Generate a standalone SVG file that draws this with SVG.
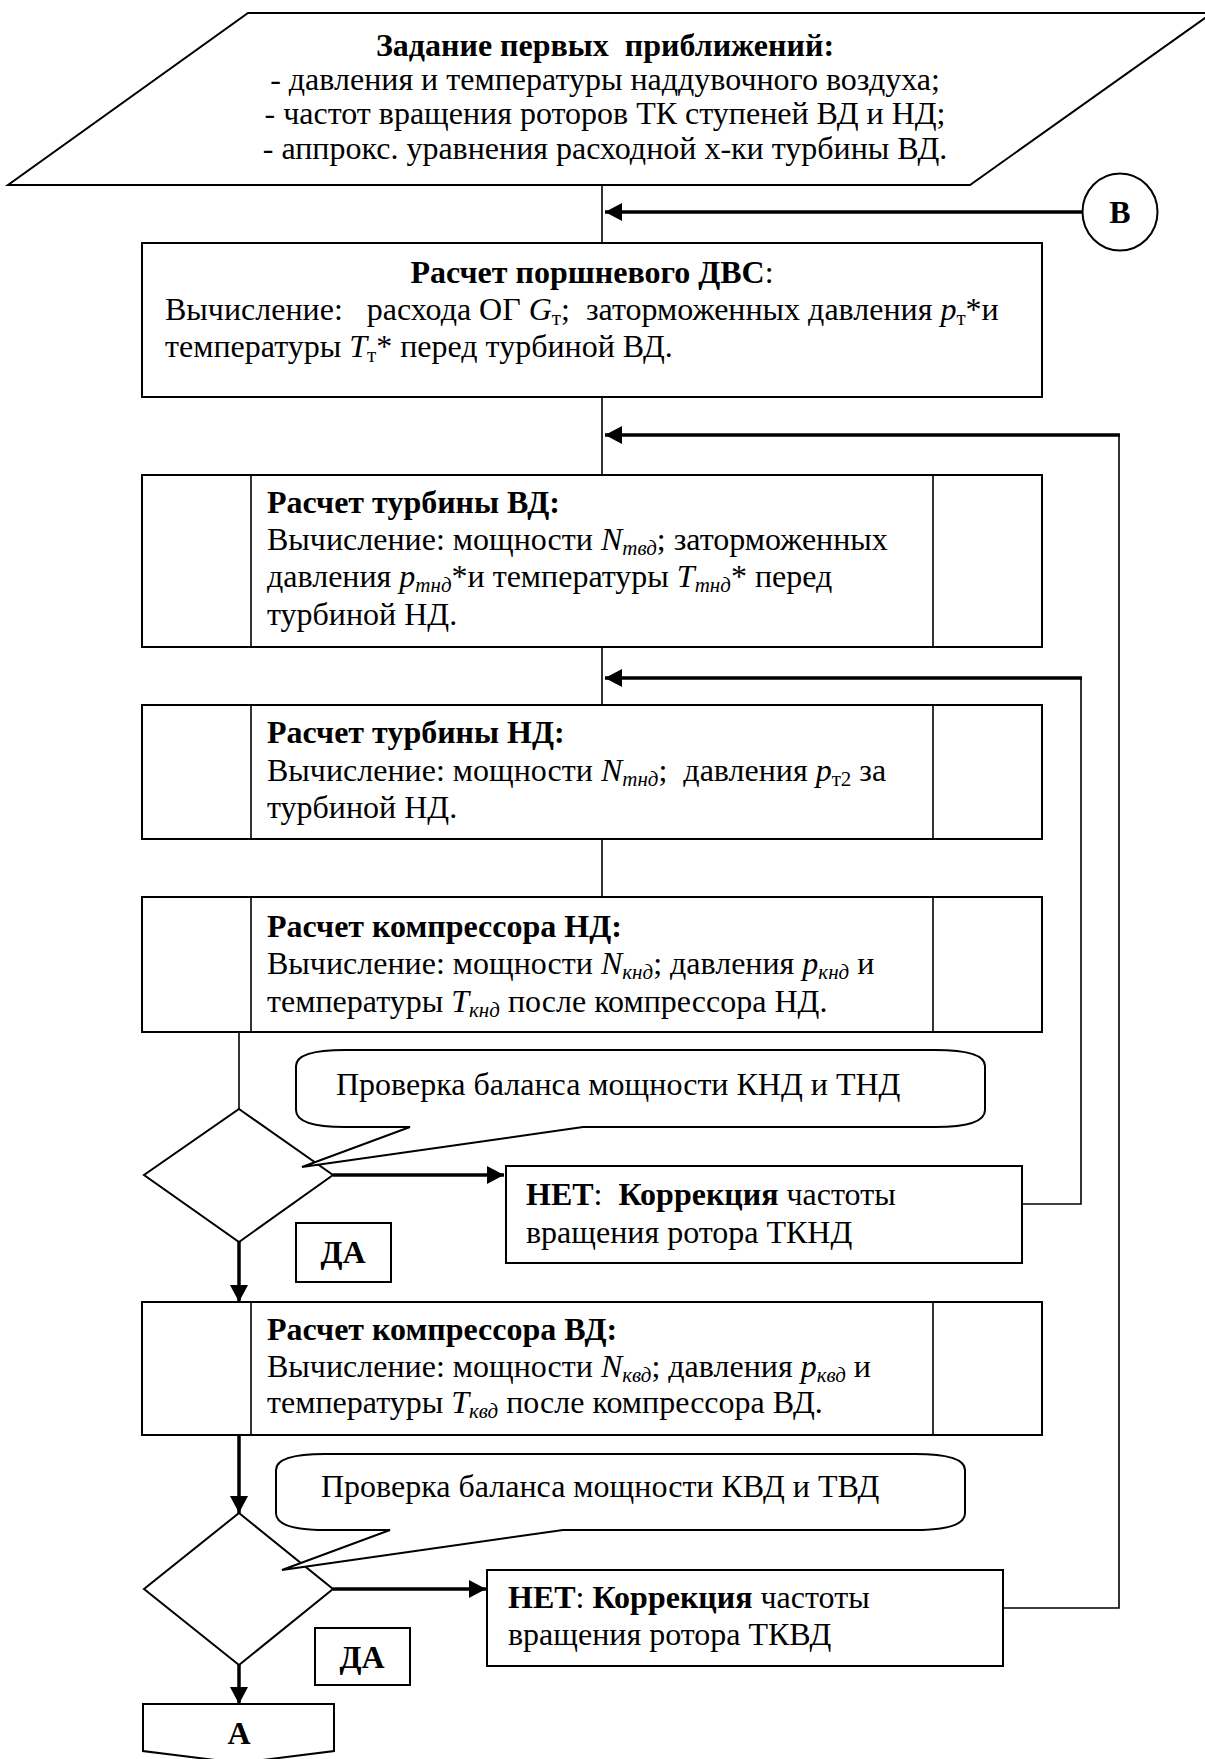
<svg xmlns="http://www.w3.org/2000/svg" width="1205" height="1759" viewBox="0 0 1205 1759">
<style>
text{font-family:"Liberation Serif","Times New Roman",serif;font-size:32px;fill:#000;white-space:pre}
.b{font-weight:bold}
.i{font-style:italic}
.s{font-size:21px}
.shape{fill:#fff;stroke:#000;stroke-width:2}
.thin{fill:none;stroke:#000;stroke-width:1.6}
.thick{fill:none;stroke:#000;stroke-width:3.5}
</style>
<defs>
<marker id="ah" markerUnits="userSpaceOnUse" markerWidth="20" markerHeight="20" refX="17" refY="9" orient="auto">
<path d="M0,0 L17,9 L0,18 Z" fill="#000"/>
</marker>
</defs>

<g id="connectors">
<line class="thin" x1="602" y1="185" x2="602" y2="243"/>
<line class="thin" x1="602" y1="397" x2="602" y2="475"/>
<line class="thin" x1="602" y1="647" x2="602" y2="705"/>
<line class="thin" x1="602" y1="839" x2="602" y2="897"/>
<line class="thick" x1="1082" y1="212" x2="605" y2="212" marker-end="url(#ah)"/>
<polyline class="thin" points="1003,1608 1119,1608 1119,435"/>
<line class="thick" x1="1120" y1="435" x2="605" y2="435" marker-end="url(#ah)"/>
<polyline class="thin" points="1022,1204 1081,1204 1081,678"/>
<line class="thick" x1="1082" y1="678" x2="605" y2="678" marker-end="url(#ah)"/>
<line class="thin" x1="239" y1="1032" x2="239" y2="1109"/>
<line class="thick" x1="239" y1="1242" x2="239" y2="1302" marker-end="url(#ah)"/>
<line class="thick" x1="239" y1="1435" x2="239" y2="1513" marker-end="url(#ah)"/>
<line class="thick" x1="239" y1="1665" x2="239" y2="1704" marker-end="url(#ah)"/>
<line class="thick" x1="333" y1="1175" x2="504" y2="1175" marker-end="url(#ah)"/>
<line class="thick" x1="333" y1="1589" x2="486" y2="1589" marker-end="url(#ah)"/>
</g>

<g id="start">
<polygon class="shape" points="248,13 1212,13 970,185 8,185"/>
<text x="605" y="56" text-anchor="middle" class="b">Задание первых  приближений:</text>
<text x="605" y="90" text-anchor="middle">- давления и температуры наддувочного воздуха;</text>
<text x="605" y="124" text-anchor="middle">- частот вращения роторов ТК ступеней ВД и НД;</text>
<text x="605" y="159" text-anchor="middle">- аппрокс. уравнения расходной х-ки турбины ВД.</text>
</g>

<g id="conn-b">
<ellipse class="shape" cx="1120" cy="212" rx="37.5" ry="38.5"/>
<text x="1120" y="223" text-anchor="middle" class="b">В</text>
</g>

<g id="ice">
<rect class="shape" x="142" y="243" width="900" height="154"/>
<text x="592" y="283" text-anchor="middle"><tspan class="b">Расчет поршневого ДВС</tspan>:</text>
<text x="165" y="320">Вычисление:   расхода ОГ <tspan class="i">G</tspan><tspan class="s" dy="5">т</tspan><tspan dy="-5">;  заторможенных давления </tspan><tspan class="i">p</tspan><tspan class="s" dy="5">т</tspan><tspan dy="-5">*и</tspan></text>
<text x="165" y="357">температуры <tspan class="i">T</tspan><tspan class="s" dy="5">т</tspan><tspan dy="-5">* перед турбиной ВД.</tspan></text>
</g>

<g id="turb-hp">
<rect class="shape" x="142" y="475" width="900" height="172"/>
<line class="thin" x1="251" y1="475" x2="251" y2="647"/>
<line class="thin" x1="933" y1="475" x2="933" y2="647"/>
<text x="267" y="513" class="b">Расчет турбины ВД:</text>
<text x="267" y="550">Вычисление: мощности <tspan class="i">N</tspan><tspan class="s i" dy="5">твд</tspan><tspan dy="-5">; заторможенных</tspan></text>
<text x="267" y="587">давления <tspan class="i">p</tspan><tspan class="s i" dy="5">тнд</tspan><tspan dy="-5">*и температуры </tspan><tspan class="i">T</tspan><tspan class="s i" dy="5">тнд</tspan><tspan dy="-5">* перед</tspan></text>
<text x="267" y="625">турбиной НД.</text>
</g>

<g id="turb-lp">
<rect class="shape" x="142" y="705" width="900" height="134"/>
<line class="thin" x1="251" y1="705" x2="251" y2="839"/>
<line class="thin" x1="933" y1="705" x2="933" y2="839"/>
<text x="267" y="743" class="b">Расчет турбины НД:</text>
<text x="267" y="781">Вычисление: мощности <tspan class="i">N</tspan><tspan class="s i" dy="5">тнд</tspan><tspan dy="-5">;  давления </tspan><tspan class="i">p</tspan><tspan class="s" dy="5">т2</tspan><tspan dy="-5"> за</tspan></text>
<text x="267" y="818">турбиной НД.</text>
</g>

<g id="comp-lp">
<rect class="shape" x="142" y="897" width="900" height="135"/>
<line class="thin" x1="251" y1="897" x2="251" y2="1032"/>
<line class="thin" x1="933" y1="897" x2="933" y2="1032"/>
<text x="267" y="937" class="b">Расчет компрессора НД:</text>
<text x="267" y="974">Вычисление: мощности <tspan class="i">N</tspan><tspan class="s i" dy="5">кнд</tspan><tspan dy="-5">; давления </tspan><tspan class="i">p</tspan><tspan class="s i" dy="5">кнд</tspan><tspan dy="-5"> и</tspan></text>
<text x="267" y="1012">температуры <tspan class="i">T</tspan><tspan class="s i" dy="5">кнд</tspan><tspan dy="-5"> после компрессора НД.</tspan></text>
</g>

<g id="check-lp">
<polygon class="shape" points="239,1109 333,1175 239,1242 144,1175"/>
</g>

<g id="note-lp">
<path class="shape" d="M296,1066 Q296,1050 345,1050 L935,1050 Q985,1050 985,1066 L985,1110 Q985,1127 935,1127 L583,1127 L302,1167 L410,1127 L345,1127 Q296,1127 296,1110 Z"/>
<text x="336" y="1095">Проверка баланса мощности КНД и ТНД</text>
</g>

<g id="no-lp">
<rect class="shape" x="506" y="1166" width="516" height="97"/>
<text x="526" y="1205"><tspan class="b">НЕТ</tspan>:  <tspan class="b">Коррекция</tspan> частоты</text>
<text x="526" y="1243">вращения ротора ТКНД</text>
</g>

<g id="yes-lp">
<rect class="shape" x="296" y="1223" width="95" height="59"/>
<text x="343" y="1263" text-anchor="middle" class="b">ДА</text>
</g>

<g id="comp-hp">
<rect class="shape" x="142" y="1302" width="900" height="133"/>
<line class="thin" x1="251" y1="1302" x2="251" y2="1435"/>
<line class="thin" x1="933" y1="1302" x2="933" y2="1435"/>
<text x="267" y="1340" class="b">Расчет компрессора ВД:</text>
<text x="267" y="1377">Вычисление: мощности <tspan class="i">N</tspan><tspan class="s i" dy="5">квд</tspan><tspan dy="-5">; давления </tspan><tspan class="i">p</tspan><tspan class="s i" dy="5">квд</tspan><tspan dy="-5"> и</tspan></text>
<text x="267" y="1413">температуры <tspan class="i">T</tspan><tspan class="s i" dy="5">квд</tspan><tspan dy="-5"> после компрессора ВД.</tspan></text>
</g>

<g id="check-hp">
<polygon class="shape" points="239,1513 333,1589 239,1665 144,1589"/>
</g>

<g id="note-hp">
<path class="shape" d="M276,1470 Q276,1454 325,1454 L915,1454 Q965,1454 965,1470 L965,1513 Q965,1530 915,1530 L563,1530 L282,1570 L390,1530 L325,1530 Q276,1530 276,1513 Z"/>
<text x="321" y="1497">Проверка баланса мощности КВД и ТВД</text>
</g>

<g id="no-hp">
<rect class="shape" x="487" y="1570" width="516" height="96"/>
<text x="508" y="1608"><tspan class="b">НЕТ</tspan>: <tspan class="b">Коррекция</tspan> частоты</text>
<text x="508" y="1645">вращения ротора ТКВД</text>
</g>

<g id="yes-hp">
<rect class="shape" x="315" y="1628" width="95" height="57"/>
<text x="362" y="1668" text-anchor="middle" class="b">ДА</text>
</g>

<g id="conn-a">
<polygon class="shape" points="143,1704 334,1704 334,1751 239,1763 143,1751"/>
<text x="239" y="1744" text-anchor="middle" class="b">А</text>
</g>
</svg>
